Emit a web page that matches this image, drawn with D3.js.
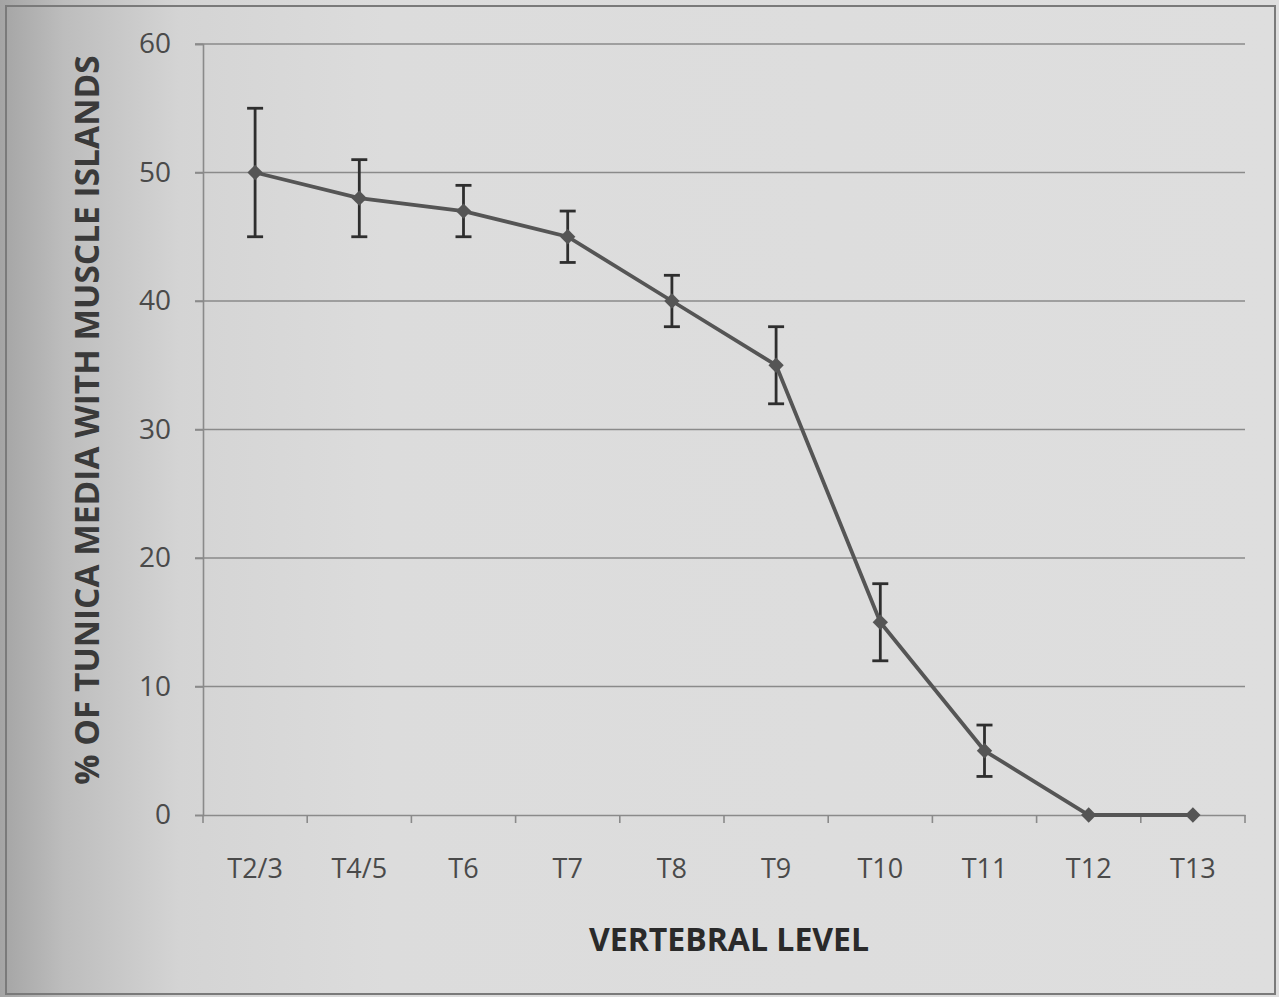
<!DOCTYPE html>
<html>
<head>
<meta charset="utf-8">
<script src="https://cdn.jsdelivr.net/npm/d3@7"></script>
<style>
  html, body { margin: 0; padding: 0; background: #d9d9d9; }
  svg { display: block; }
</style>
</head>
<body>
<script>
// Chart data
const levels = ["T2/3", "T4/5", "T6", "T7", "T8", "T9", "T10", "T11", "T12", "T13"];
const percent = [50, 48, 47, 45, 40, 35, 15, 5, 0, 0];
const errors = [5, 3, 2, 2, 2, 3, 3, 2, 0, 0];
const yTicks = [0, 10, 20, 30, 40, 50, 60];

const width = 1279;
const height = 997;
const margin = { top: 44, right: 34, bottom: 182, left: 203 };

const data = levels.map((l, i) => ({ level: l, value: percent[i], err: errors[i] }));

const svg = d3.select("body")
    .append("svg")
    .attr("width", width)
    .attr("height", height);

// Scanned paper look: grey with a darker left edge
const defs = svg.append("defs");
const grad = defs.append("linearGradient")
    .attr("id", "paper")
    .attr("x1", "0").attr("x2", "1").attr("y1", "0").attr("y2", "0");
grad.append("stop").attr("offset", "0").attr("stop-color", "#a4a4a4");
grad.append("stop").attr("offset", "0.05").attr("stop-color", "#bdbdbd");
grad.append("stop").attr("offset", "0.14").attr("stop-color", "#d4d4d4");
grad.append("stop").attr("offset", "0.3").attr("stop-color", "#dcdcdc");
grad.append("stop").attr("offset", "1").attr("stop-color", "#dedede");

svg.append("rect")
    .attr("width", width).attr("height", height)
    .attr("fill", "url(#paper)");

// Outer frame of the chart area
svg.append("rect")
    .attr("x", 6).attr("y", 6)
    .attr("width", width - 10).attr("height", height - 9)
    .attr("fill", "none")
    .attr("stroke", "#7a7a7a")
    .attr("stroke-width", 2);

// Scales
const x = d3.scaleBand()
    .domain(levels)
    .range([margin.left, width - margin.right])
    .padding(0);

const y = d3.scaleLinear()
    .domain([0, 60])
    .range([height - margin.bottom, margin.top]);

// Gridlines
svg.append("g")
    .selectAll("line")
    .data(yTicks.filter(d => d > 0))
    .join("line")
    .attr("x1", margin.left - 8)
    .attr("x2", width - margin.right)
    .attr("y1", d => y(d))
    .attr("y2", d => y(d))
    .attr("stroke", "#8a8a8a")
    .attr("stroke-width", 1.6);

// Y axis
const yAxis = d3.axisLeft(y)
    .tickValues(yTicks)
    .tickSize(8)
    .tickPadding(24);

const gy = svg.append("g")
    .attr("transform", `translate(${margin.left},0)`)
    .call(yAxis);
gy.select(".domain").attr("stroke", "#8a8a8a").attr("stroke-width", 1.6);
gy.selectAll(".tick line").attr("stroke", "#8a8a8a").attr("stroke-width", 1.6);
gy.selectAll(".tick text")
    .attr("fill", "#4a4a4a")
    .style("font-family", "'Open Sans', sans-serif")
    .style("font-size", "28px");

// X axis, ticks between categories
const xAxis = d3.axisBottom(x)
    .tickSize(0)
    .tickPadding(44);

const gx = svg.append("g")
    .attr("transform", `translate(0,${y(0)})`)
    .call(xAxis);
gx.select(".domain").attr("stroke", "#8a8a8a").attr("stroke-width", 1.6);
gx.selectAll(".tick text")
    .attr("fill", "#4a4a4a")
    .style("font-family", "'Open Sans', sans-serif")
    .style("font-size", "27px");

gx.append("g")
    .selectAll("line")
    .data(levels.concat([null]))
    .join("line")
    .attr("x1", (d, i) => margin.left + i * x.bandwidth())
    .attr("x2", (d, i) => margin.left + i * x.bandwidth())
    .attr("y1", 0)
    .attr("y2", 8)
    .attr("stroke", "#8a8a8a")
    .attr("stroke-width", 1.6);

const cx = d => x(d.level) + x.bandwidth() / 2;

// Error bars
const eb = svg.append("g")
    .selectAll("g")
    .data(data.filter(d => d.err > 0))
    .join("g")
    .attr("stroke", "#2e2e2e")
    .attr("stroke-width", 2.8);
eb.append("line")
    .attr("x1", cx).attr("x2", cx)
    .attr("y1", d => y(d.value + d.err))
    .attr("y2", d => y(d.value - d.err));
eb.append("line")
    .attr("x1", d => cx(d) - 8).attr("x2", d => cx(d) + 8)
    .attr("y1", d => y(d.value + d.err))
    .attr("y2", d => y(d.value + d.err));
eb.append("line")
    .attr("x1", d => cx(d) - 8).attr("x2", d => cx(d) + 8)
    .attr("y1", d => y(d.value - d.err))
    .attr("y2", d => y(d.value - d.err));

// Line
const line = d3.line()
    .x(cx)
    .y(d => y(d.value));

svg.append("path")
    .datum(data)
    .attr("fill", "none")
    .attr("stroke", "#555555")
    .attr("stroke-width", 3.8)
    .attr("d", line);

// Diamond markers
svg.append("g")
    .selectAll("path")
    .data(data)
    .join("path")
    .attr("transform", d => `translate(${cx(d)},${y(d.value)})`)
    .attr("d", d3.symbol(d3.symbolDiamond2, 150))
    .attr("fill", "#555555");

// Axis titles
svg.append("text")
    .attr("x", 729)
    .attr("y", 951)
    .attr("text-anchor", "middle")
    .attr("fill", "#2a2a2a")
    .style("font-family", "'Open Sans', sans-serif")
    .style("font-weight", "bold")
    .style("font-size", "32px")
    .text("VERTEBRAL LEVEL");

svg.append("text")
    .attr("transform", `translate(99,420) rotate(-90)`)
    .attr("text-anchor", "middle")
    .attr("fill", "#3a3a3a")
    .style("font-family", "'Open Sans', sans-serif")
    .style("font-weight", "bold")
    .style("font-size", "33.5px")
    .text("% OF TUNICA MEDIA WITH MUSCLE ISLANDS");
</script>
</body>
</html>
